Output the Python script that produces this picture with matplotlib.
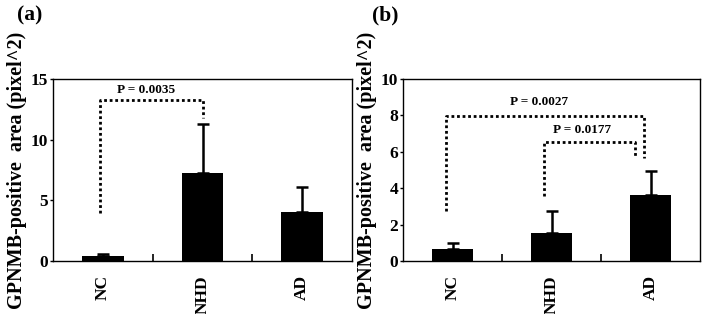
import matplotlib
matplotlib.use("Agg")
import matplotlib.pyplot as plt
import numpy as np

plt.rcParams['font.family'] = ['Liberation Serif', 'DejaVu Serif']
plt.rcParams['font.weight'] = 'bold'

categories = ["NC", "NHD", "AD"]

# Panel (a)
a_means = [0.42, 7.23, 4.01]
a_errs = [0.14, 4.07, 2.06]
a_yticks = [0, 5, 10, 15]
# bracket: (x_left, x_right, y_left_start, y_top, y_right_end, label, label_x, label_y)
a_brackets = [(-0.03, 1.0, 3.93, 13.27, 11.76, "P = 0.0035", 0.43, 14.1)]

# Panel (b)
b_means = [0.65, 1.52, 3.62]
b_errs = [0.33, 1.2, 1.33]
b_yticks = [0, 2, 4, 6, 8, 10]
b_brackets = [(-0.07, 1.93, 2.72, 7.97, 5.67, "P = 0.0027", 0.87, 8.75),
              (0.92, 1.84, 3.55, 6.53, 5.73, "P = 0.0177", 1.31, 7.2)]

ylabel = "GPNMB-positive  area (pixel^2)"

W, H = 702, 314
fig = plt.figure(figsize=(W / 100, H / 100), dpi=100)
ax1 = fig.add_axes([53 / W, 1 - 261 / H, (352 - 53) / W, (261 - 79) / H])
ax2 = fig.add_axes([403 / W, 1 - 261 / H, (700 - 403) / W, (261 - 79) / H])


def draw(ax, means, errs, yticks, brackets, ymax, panel, px):
    x = np.arange(len(categories))
    ax.bar(x, means, width=0.42, color="black", zorder=2)
    ax.errorbar(x, means, yerr=[np.zeros(len(errs)), errs], fmt="none",
                ecolor="black", elinewidth=1.8, capsize=4.5, capthick=1.8, zorder=3)
    ax.set_xlim(-0.5, 2.5)
    ax.set_ylim(0, ymax)
    ax.set_yticks(yticks)
    ax.set_yticklabels([str(t) for t in yticks], fontsize=12.5, fontweight="bold")
    ax.set_xticks(x)
    ax.set_xticklabels(categories, rotation=90, fontsize=12.5, fontweight="bold",
                       va="top")
    ax.tick_params(axis="x", length=0, pad=10)
    ax.set_xticks([0.5, 1.5], minor=True)
    ax.tick_params(axis="x", which="minor", direction="in", length=5, width=1.2)
    ax.tick_params(axis="y", direction="out", length=2.5, width=1, pad=1)
    for s in ax.spines.values():
        s.set_linewidth(1.0)
    ax.set_ylabel(ylabel, fontsize=14.5, fontweight="bold", labelpad=3)
    for (xl, xr, yl, yt, yr, lab, lx, ly) in brackets:
        ax.plot([xl, xl, xr, xr], [yl, yt, yt, yr], color="black",
                linestyle=(0, (1, 1)), linewidth=2.0, zorder=4)
        ax.text(lx, ly, lab, ha="center", va="center", fontsize=9.5,
                fontweight="bold")
    fig.text(px / W, 1 - 15 / H, panel, ha="center", va="center",
             fontsize=15.5, fontweight="bold")


draw(ax1, a_means, a_errs, a_yticks, a_brackets, 15, "(a)", 30)
draw(ax2, b_means, b_errs, b_yticks, b_brackets, 10, "(b)", 385)

fig.savefig("out.png", dpi=100)
